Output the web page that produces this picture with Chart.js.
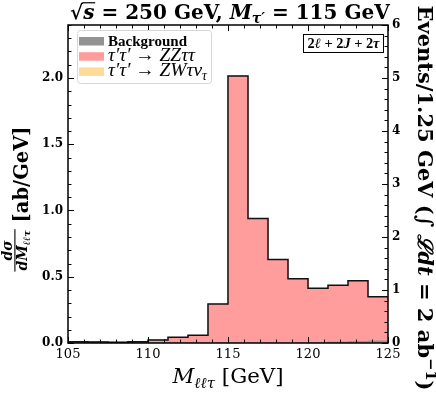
<!DOCTYPE html>
<html>
<head>
<meta charset="utf-8" />
<title>M_lltau distribution</title>
<script src="https://cdn.jsdelivr.net/npm/chart.js"></script>
<style>
  html, body { margin: 0; padding: 0; background: #fff; }
</style>
</head>
<body>
<canvas id="myChart" width="436" height="395"></canvas>
<script>
// bin edges in GeV (1.25 GeV bins)
const edges = [105, 106.25, 107.5, 108.75, 110, 111.25, 112.5, 113.75, 115,
               116.25, 117.5, 118.75, 120, 121.25, 122.5, 123.75, 125];
// dsigma/dM in ab/GeV, one value per bin
const background = [0.010, 0.008, 0.006, 0.008, 0.004, 0.003, 0.002, 0.001,
                    0, 0, 0, 0, 0.003, 0.008, 0.012, 0.016];
const zzTauTau = [0, 0, 0, 0.002, 0.019, 0.040, 0.056, 0.293,
                  2.015, 0.940, 0.630, 0.485, 0.410, 0.427, 0.458, 0.334];
const zwTauNu = [0, 0, 0, 0, 0, 0, 0, 0, 0, 0, 0, 0, 0, 0, 0, 0];

const xTicks = [105, 110, 115, 120, 125];
const yTicks = [0, 0.5, 1.0, 1.5, 2.0];
const eventTicks = [0, 1, 2, 3, 4, 5, 6];

const SERIF = '"DejaVu Serif", "Liberation Serif", serif';
const TIMES = '"Liberation Serif", "DejaVu Serif", serif';

const centers = edges.slice(0, -1).map((e, i) => (e + edges[i + 1]) / 2);
const barData = arr => arr.map((v, i) => ({ x: centers[i], y: v }));
const totals = background.map((v, i) => v + zzTauTau[i] + zwTauNu[i]);
const outline = edges.map((e, i) => ({ x: e, y: totals[Math.min(i, totals.length - 1)] }));

let curFamily = SERIF;
function segFont(s, size, bold) {
  const sz = (s.sub || s.sup) ? size * 0.7 : size;
  const b = s.b !== undefined ? s.b : bold;
  return (s.i ? 'italic ' : '') + (b ? 'bold ' : '') + sz.toFixed(2) + 'px ' + curFamily;
}
function richWidth(ctx, segs, size, bold) {
  let w = 0;
  for (const s of segs) { ctx.font = segFont(s, size, bold); w += ctx.measureText(s.t).width; }
  return w;
}
function drawRich(ctx, segs, x, y, size, bold) {
  for (const s of segs) {
    ctx.font = segFont(s, size, bold);
    const dy = s.sub ? size * 0.22 : s.sup ? -size * 0.38 : 0;
    ctx.fillText(s.t, x, y + dy);
    const w = ctx.measureText(s.t).width;
    if (s.over) ctx.fillRect(x - size * 0.04, y - size * 0.84, w + size * 0.08, Math.max(1, size * 0.06));
    x += w;
  }
  return x;
}
function fitSize(ctx, segs, target, bold) {
  return 20 * target / richWidth(ctx, segs, 20, bold);
}

const titleSegs = [{ t: '√' }, { t: 's', i: 1, over: 1 }, { t: ' = 250 GeV, ' },
  { t: 'M', i: 1 }, { t: 'τ′', i: 1, sub: 1 }, { t: ' = 115 GeV' }];
const xTitleSegs = [{ t: 'M', i: 1 }, { t: 'ℓℓτ', i: 1, sub: 1 }, { t: ' [GeV]' }];
const numSegs = [{ t: 'dσ', i: 1 }];
const denSegs = [{ t: 'dM', i: 1 }, { t: 'ℓℓτ', i: 1, sub: 1 }];
const unitSegs = [{ t: ' [ab/GeV]' }];
const rightSegs = [{ t: 'Events/1.25 GeV (' }, { t: '∫ ' }, { t: 'ℒdt', i: 1 },
  { t: ' = 2 ab' }, { t: '−1', sup: 1 }, { t: ')' }];
const boxSegs = [{ t: '2' }, { t: 'ℓ', i: 1 }, { t: ' + 2' }, { t: 'J', i: 1 }, { t: ' + 2' }, { t: 'τ', i: 1 }];
const legendItems = [
  { color: '#939393', segs: [{ t: 'Background' }], bold: true, w: 79 },
  { color: '#ff9c9c', segs: [{ t: 'τ′τ′', i: 1 }, { t: ' → ' }, { t: 'ZZττ', i: 1 }], bold: false },
  { color: '#ffdb99', segs: [{ t: 'τ′τ′', i: 1 }, { t: ' → ' }, { t: 'ZWτν', i: 1 }, { t: 'τ', i: 1, sub: 1 }], bold: false, w: 99 }
];

const decor = {
  id: 'decor',
  afterDraw(chart) {
    const ctx = chart.ctx;
    const a = chart.chartArea;
    const sx = chart.scales.x, sy = chart.scales.y, sr = chart.scales.yr;
    ctx.save();
    ctx.fillStyle = '#000';
    ctx.strokeStyle = '#000';
    ctx.textBaseline = 'alphabetic';
    ctx.textAlign = 'left';

    // frame
    ctx.lineWidth = 1.5;
    ctx.strokeRect(a.left, a.top, a.right - a.left, a.bottom - a.top);

    // inward ticks
    ctx.lineWidth = 1;
    const tick = (x1, y1, x2, y2) => { ctx.beginPath(); ctx.moveTo(x1, y1); ctx.lineTo(x2, y2); ctx.stroke(); };
    for (let v = 105; v <= 125; v += 1) {
      const px = Math.round(sx.getPixelForValue(v)) + 0.5;
      const L = v % 5 === 0 ? 6 : 3.5;
      tick(px, a.bottom, px, a.bottom - L);
      tick(px, a.top, px, a.top + L);
    }
    for (let k = 0; k <= 24; k++) {
      const py = Math.round(sy.getPixelForValue(k / 10)) + 0.5;
      tick(a.left, py, a.left + (k % 5 === 0 ? 6 : 3.5), py);
    }
    for (let k = 0; k <= 30; k++) {
      const py = Math.round(sr.getPixelForValue(k / 5)) + 0.5;
      tick(a.right, py, a.right - (k % 5 === 0 ? 6 : 3.5), py);
    }

    curFamily = SERIF;
    // top title
    let s = fitSize(ctx, titleSegs, 320, true);
    drawRich(ctx, titleSegs, 70, 19, s, true);

    // x title
    s = fitSize(ctx, xTitleSegs, 111, false);
    let w = richWidth(ctx, xTitleSegs, s, false);
    drawRich(ctx, xTitleSegs, 228 - w / 2, 383, s, false);

    // left y title (fraction + unit)
    const ms = 19.5, fs = ms * 0.72;
    const numW = richWidth(ctx, numSegs, fs, true);
    const denW = richWidth(ctx, denSegs, fs, true);
    const fw = Math.max(numW, denW) + 2;
    const uw = richWidth(ctx, unitSegs, ms, true);
    const W = fw + uw;
    ctx.save();
    ctx.translate(28, 199);
    ctx.rotate(-Math.PI / 2);
    const x0 = -W / 2;
    drawRich(ctx, numSegs, x0 + (fw - numW) / 2, -ms * 0.84, fs, true);
    ctx.fillRect(x0, -ms * 0.70, fw, 1.1);
    drawRich(ctx, denSegs, x0 + (fw - denW) / 2, -ms * 0.06, fs, true);
    drawRich(ctx, unitSegs, x0 + fw, 0, ms, true);
    ctx.restore();

    // right y title
    s = fitSize(ctx, rightSegs, 386, true);
    w = richWidth(ctx, rightSegs, s, true);
    ctx.save();
    ctx.translate(418, 198);
    ctx.rotate(Math.PI / 2);
    drawRich(ctx, rightSegs, -w / 2, 0, s, true);
    ctx.restore();

    // legend
    curFamily = TIMES;
    const lx = 77, ly = 30, lw = 134, lh = 53;
    ctx.beginPath();
    ctx.roundRect(lx + 0.5, ly + 0.5, lw, lh, 3);
    ctx.fillStyle = 'rgba(255,255,255,0.8)';
    ctx.fill();
    ctx.strokeStyle = '#d6d6d6';
    ctx.lineWidth = 1;
    ctx.stroke();
    const mathSize = fitSize(ctx, legendItems[2].segs, legendItems[2].w, false);
    const bgSize = fitSize(ctx, legendItems[0].segs, legendItems[0].w, true);
    legendItems.forEach((it, k) => {
      const yy = 37 + k * 15.2;
      ctx.fillStyle = it.color;
      ctx.fillRect(79, yy, 25, 8.5);
      ctx.fillStyle = '#000';
      drawRich(ctx, it.segs, 108, yy + 8.8, it.bold ? bgSize : mathSize, it.bold);
    });

    // channel box
    const bx = 303, by = 34, bw = 80, bh = 18;
    ctx.strokeStyle = '#000';
    ctx.lineWidth = 1;
    ctx.strokeRect(bx + 0.5, by + 0.5, bw, bh);
    s = fitSize(ctx, boxSegs, 72, true);
    w = richWidth(ctx, boxSegs, s, true);
    ctx.fillStyle = '#000';
    drawRich(ctx, boxSegs, bx + (bw - w) / 2 + 0.5, by + bh - 4.5, s, true);

    ctx.restore();
  }
};

const config = {
  type: 'bar',
  data: {
    datasets: [
      {
        type: 'line', label: 'total', data: outline, yAxisID: 'yo', order: 0,
        stepped: true, borderColor: '#111', borderWidth: 1.5, pointRadius: 0, fill: false
      },
      { label: 'Background', data: barData(background), backgroundColor: '#939393', order: 1 },
      { label: 'ZZtautau', data: barData(zzTauTau), backgroundColor: '#ff9c9c', order: 1 },
      { label: 'ZWtaunu', data: barData(zwTauNu), backgroundColor: '#ffdb99', order: 1 }
    ]
  },
  options: {
    responsive: false,
    animation: false,
    devicePixelRatio: 1,
    layout: { padding: { top: 25, left: 0, right: 0, bottom: 0 } },
    datasets: { bar: { barPercentage: 1, categoryPercentage: 1, borderWidth: 0 } },
    plugins: { legend: { display: false }, tooltip: { enabled: false } },
    scales: {
      x: {
        type: 'linear', position: 'bottom', min: 105, max: 125, offset: false, stacked: true,
        grid: { display: false, drawTicks: false }, border: { display: false },
        afterBuildTicks: sc => { sc.ticks = xTicks.map(v => ({ value: v })); },
        afterFit: sc => { sc.height = 52; },
        ticks: { padding: 4, color: '#000', maxRotation: 0, font: { family: SERIF, size: 13 } }
      },
      y: {
        position: 'left', min: 0, max: 2.4, stacked: true,
        grid: { display: false, drawTicks: false }, border: { display: false },
        afterBuildTicks: sc => { sc.ticks = yTicks.map(v => ({ value: v })); },
        afterFit: sc => { sc.width = 68; },
        ticks: { padding: 5, color: '#000', font: { family: SERIF, size: 12, weight: 'bold' },
                 callback: v => v.toFixed(1) }
      },
      yr: {
        position: 'right', min: 0, max: 6,
        grid: { display: false, drawTicks: false }, border: { display: false },
        afterBuildTicks: sc => { sc.ticks = eventTicks.map(v => ({ value: v })); },
        afterFit: sc => { sc.width = 48; },
        ticks: { padding: 4, color: '#000', font: { family: SERIF, size: 12, weight: 'bold' } }
      },
      yo: { display: false, min: 0, max: 2.4 }
    }
  },
  plugins: [decor]
};

const myChart = new Chart(document.getElementById('myChart'), config);
</script>
</body>
</html>
